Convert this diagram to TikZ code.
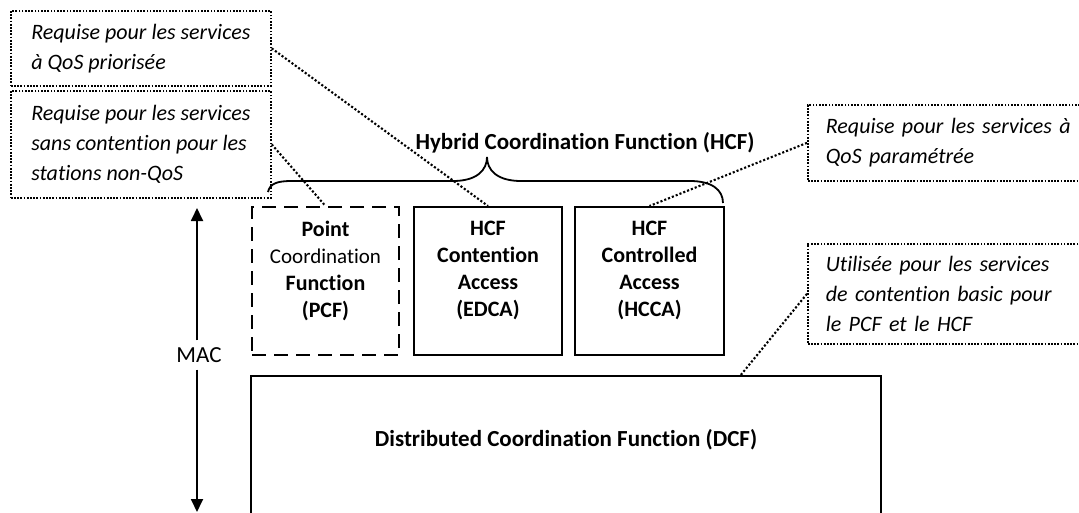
\documentclass[tikz,border=0pt]{standalone}
\usepackage{fontspec}
\setmainfont{Carlito}[Ligatures={NoCommon,NoContextual}]
\usetikzlibrary{arrows.meta,positioning,calc}

\begin{document}
\begin{tikzpicture}[
    x=1pt, y=-1pt,
    bloc/.style={draw, line width=2pt, minimum width=148pt, minimum height=148pt, align=center,
        font=\fontsize{22}{27}\selectfont\bfseries, text depth=24pt},
    optbloc/.style={bloc, dash pattern=on 14pt off 8pt},
    note/.style={draw, line width=1.7pt, dash pattern=on 1.7pt off 1.5pt, align=left, anchor=north west,
        inner xsep=18pt, inner ysep=0pt, font=\fontsize{22}{30}\selectfont\itshape},
    lien/.style={line width=2.1pt, dash pattern=on 2.1pt off 2pt},
    titre/.style={font=\fontsize{23}{26}\selectfont\bfseries},
    arrow/.style={-{Triangle[length=13pt, width=12pt]}, line width=1.8pt}
]
\useasboundingbox (0,0) rectangle (1079,512);
\clip (0,0) rectangle (1079,512);

% Notes explicatives
\node[note, minimum width=260pt, minimum height=75pt] (qosprio) at (10,10)
    {Requise pour les services\\à QoS priorisée};
\node[note, minimum width=260pt, minimum height=107pt] (nonqos) at (10,90)
    {Requise pour les services\\sans contention pour les\\stations non-QoS};
\node[note, text width=270pt, minimum height=76pt] (qosparam) at (807,104)
    {Requise pour les services à\\QoS paramétrée};
\node[note, text width=270pt, minimum height=100pt] (basic) at (807,243)
    {Utilisée pour les services\\de contention basic pour\\le PCF et le HCF};

% Fonctions de coordination
\node[optbloc, minimum width=147pt] (pcf) at (325.5,281)
    {Point\\{\mdseries\fontsize{21}{27}\selectfont Coordination}\\Function\\(PCF)};
\node[bloc, right=13pt of pcf] (edca) {HCF\\Contention\\Access\\(EDCA)};
\node[bloc, right=11pt of edca, minimum width=149pt] (hcca) {HCF\\Controlled\\Access\\(HCCA)};

% DCF
\draw[line width=2pt] (251,376) rectangle (881,514);
\node[titre] (dcf) at (566,440) {Distributed Coordination Function (DCF)};
\coordinate (dcfhaut) at (740,376);

% Accolade HCF
\draw[line width=1.8pt] (268,192) .. controls (270,183) and (278,181) .. (292,181)
    -- (453,181) .. controls (477,181) and (487,170) .. (487,157)
    .. controls (487,170) and (497,181) .. (521,181)
    -- (690,181) .. controls (712,181) and (723,190) .. (723,203);
\node[titre] (hcf) at (585,143) {Hybrid Coordination Function (HCF)};

% Liens pointilles
\draw[lien] (qosprio.east) -- (edca.north);
\draw[lien] (nonqos.east) -- (pcf.north);
\draw[lien] (qosparam.west) -- (hcca.north);
\draw[lien] (basic.west) -- (dcfhaut);

% Couche MAC
\node[font=\fontsize{23}{26}\selectfont, inner sep=7pt] (mac) at (199,355) {MAC};
\coordinate (machaut) at (197,208);
\coordinate (macbas) at (197,512);
\draw[arrow] (mac.north -| machaut) -- (machaut);
\draw[arrow] (mac.south -| macbas) -- (macbas);

\end{tikzpicture}
\end{document}
